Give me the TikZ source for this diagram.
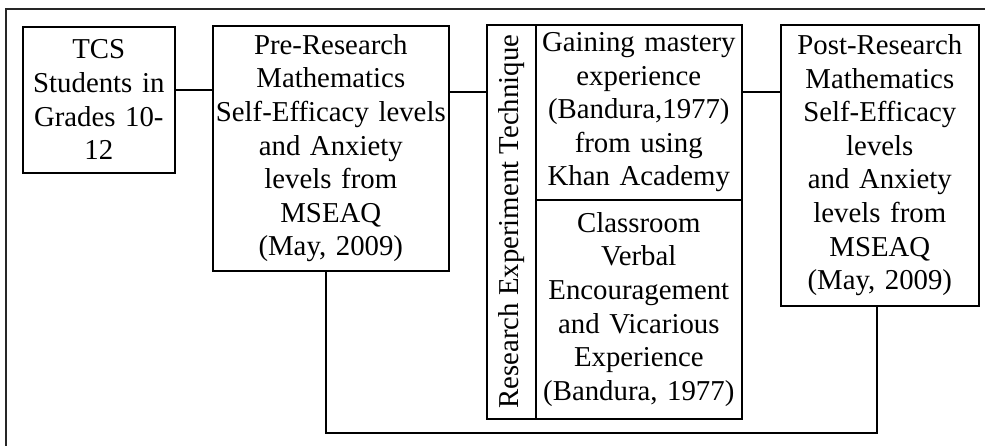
\documentclass[tikz,border=0pt]{standalone}
\usepackage{fontspec}
\setmainfont{Liberation Serif}
\begin{document}
\begin{tikzpicture}[x=1pt,y=-1pt,
  every node/.style={font=\fontsize{28.8}{33.6}\selectfont},
  box/.style={draw, line width=1.6pt, anchor=north west, align=center,
              inner xsep=2pt, inner ysep=0pt},
  link/.style={line width=1.6pt},
  frame/.style={line width=1.8pt, draw=black!85}]
\useasboundingbox (0,0) rectangle (985,446);
% surrounding frame (runs past the right and bottom edges)
\coordinate (fTL) at (6,9);
\coordinate (fTR) at (990,9);
\coordinate (fBL) at (6,450);
\draw[frame] (fBL) -- (fTL) -- (fTR);

% boxes
\node[box, text width=148pt, minimum width=152pt, minimum height=146pt] (TCS) at (22,26)
  {TCS\\Students in\\Grades 10-\\12};
\node[box, text width=232pt, minimum width=236pt, minimum height=245pt] (Pre) at (212,25)
  {Pre-Research\\Mathematics\\Self-Efficacy levels\\and Anxiety\\levels from\\MSEAQ\\(May, 2009)};
\node[box, minimum width=49pt, minimum height=394pt] (RET) at (486,24) {};
\node[rotate=90, inner sep=0pt] (RETlabel) at (RET.center) {Research Experiment Technique};
\node[box, text width=202pt, minimum width=206pt, minimum height=175pt] (Gain) at (535,24)
  {Gaining mastery\\experience\\(Bandura,1977)\\from using\\Khan Academy};
\node[box, text width=202pt, minimum width=206pt, minimum height=219pt] (Class) at (535,199)
  {Classroom\\Verbal\\Encouragement\\and Vicarious\\Experience\\(Bandura, 1977)};
\node[box, text width=194pt, minimum width=198pt, minimum height=281pt] (Post) at (780,24)
  {Post-Research\\Mathematics\\Self-Efficacy\\levels\\and Anxiety\\levels from\\MSEAQ\\(May, 2009)};

% connector heights and loop corners
\coordinate (y1) at (0,90);
\coordinate (y2) at (0,92);
\coordinate (preX) at (326,0);
\coordinate (postX) at (877,0);
\coordinate (loopL) at (326,433);
\coordinate (loopR) at (877,433);

\draw[link] (TCS.east |- y1) -- (Pre.west |- y1);
\draw[link] (Pre.east |- y2) -- (RET.west |- y2);
\draw[link] (Gain.east |- y2) -- (Post.west |- y2);
\draw[link] (Pre.south -| preX) -- (loopL) -- (loopR) -- (Post.south -| postX);
\end{tikzpicture}
\end{document}
